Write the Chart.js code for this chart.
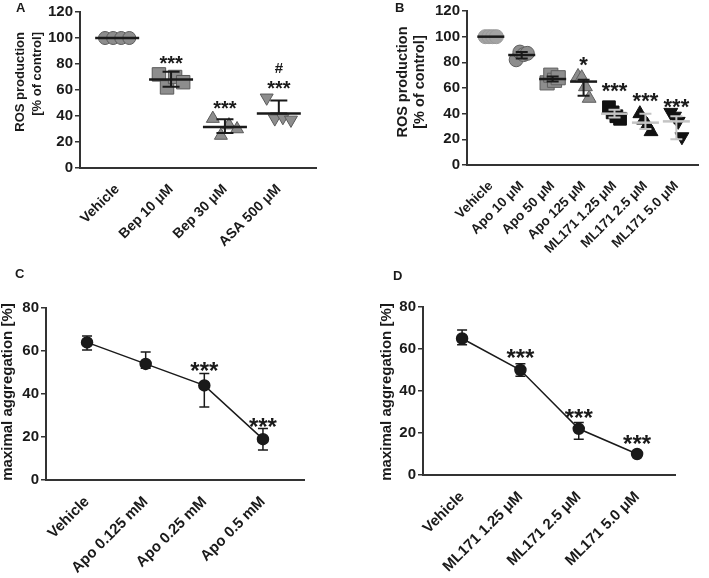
<!DOCTYPE html>
<html>
<head>
<meta charset="utf-8">
<script src="https://cdn.jsdelivr.net/npm/chart.js@4.4.1/dist/chart.umd.min.js"></script>
<style>
  body { margin: 0; background: #fff; width: 709px; height: 578px; position: relative; overflow: hidden; }
  canvas { position: absolute; }
</style>
</head>
<body>
<canvas id="panelA" width="355" height="268" style="left:0;top:0"></canvas>
<canvas id="panelB" width="354" height="268" style="left:355px;top:0"></canvas>
<canvas id="panelC" width="355" height="310" style="left:0;top:268px"></canvas>
<canvas id="panelD" width="354" height="310" style="left:355px;top:268px"></canvas>
<script>
// ---- panel A: ROS production, bepridil / ASA ----
const catsA = ['Vehicle', 'Bep 10 μM', 'Bep 30 μM', 'ASA 500 μM'];
const vehicleA = [100, 100, 100, 100];
const bep10 = [72, 62, 70, 66];
const bep30 = [38, 25, 33, 30];
const asa500 = [54, 38, 39, 37];
const meanA = [100, 68, 31.5, 42];
const lowA = [100, 62.5, 27, 42];
const highA = [100, 74, 37.5, 52];

// ---- panel B: ROS production, apocynin / ML171 ----
const catsB = ['Vehicle', 'Apo 10 μM', 'Apo 50 μM', 'Apo 125 μM', 'ML171 1.25 μM', 'ML171 2.5 μM', 'ML171 5.0 μM'];
const vehicleB = [100, 100, 100, 100];
const apo10 = [82, 88, 86, 87];
const apo50 = [64, 70, 66, 68];
const apo125 = [69, 68, 61, 52];
const ml125 = [45, 41, 38, 36];
const ml25 = [40, 35, 31, 26];
const ml50 = [41, 38, 34, 22];
const meanB = [100, 85.7, 67, 65, 40, 33, 34];
const lowB = [100, 83, 65, 54, 37, 28, 20];
const highB = [100, 88, 69, 66.5, 43, 40, 38];

// ---- panel C: aggregation, apocynin ----
const catsC = ['Vehicle', 'Apo 0.125 mM', 'Apo 0.25 mM', 'Apo 0.5 mM'];
const meanC = [64, 54, 44, 19];
const lowC = [60.5, 52, 34, 14];
const highC = [67, 59.5, 49.5, 24];

// ---- panel D: aggregation, ML171 ----
const catsD = ['Vehicle', 'ML171 1.25 μM', 'ML171 2.5 μM', 'ML171 5.0 μM'];
const meanD = [65, 50, 22, 10];
const lowD = [62, 47, 17, 9];
const highD = [69, 53, 25, 11];

const FONT = "'Liberation Sans', Arial, Helvetica, sans-serif";
const INK = '#1a1a1a';

// error bars, mean lines, stars, panel letter, axis titles
const decor = {
  id: 'decor',
  beforeDatasetsDraw(chart, args, o) {
    if (o.barsBehind) drawBars(chart, o);
  },
  afterDatasetsDraw(chart, args, o) {
    if (!o.barsBehind) drawBars(chart, o);
    drawStars(chart, o);
  },
  afterDraw(chart, args, o) {
    const ctx = chart.ctx;
    ctx.save();
    ctx.fillStyle = INK;
    ctx.font = 'bold 13px ' + FONT;
    ctx.textAlign = 'left';
    ctx.textBaseline = 'alphabetic';
    ctx.fillText(o.letter.text, o.letter.x, o.letter.y);
    o.titles.forEach(t => {
      ctx.save();
      ctx.font = 'bold ' + t.size + 'px ' + FONT;
      ctx.translate(t.x, t.y);
      ctx.rotate(-Math.PI / 2);
      ctx.textAlign = t.align;
      ctx.textBaseline = 'middle';
      ctx.fillText(t.text, 0, 0);
      ctx.restore();
    });
    ctx.restore();
  }
};

function drawBars(chart, o) {
  const ctx = chart.ctx, xs = chart.scales.x, ys = chart.scales.y;
  ctx.save();
  ctx.lineCap = 'butt';
  o.mean.forEach((m, i) => {
    const x = xs.getPixelForValue(i);
    ctx.strokeStyle = o.colors ? o.colors[i] : INK;
    if (o.meanWidth) {
      const y = ys.getPixelForValue(m);
      ctx.lineWidth = o.meanLine;
      ctx.beginPath();
      ctx.moveTo(x - o.meanWidth / 2, y);
      ctx.lineTo(x + o.meanWidth / 2, y);
      ctx.stroke();
    }
    if (o.low[i] < o.high[i]) {
      const y1 = ys.getPixelForValue(o.low[i]);
      const y2 = ys.getPixelForValue(o.high[i]);
      ctx.lineWidth = o.barLine;
      ctx.beginPath();
      ctx.moveTo(x, y1); ctx.lineTo(x, y2);
      ctx.moveTo(x - o.cap / 2, y1); ctx.lineTo(x + o.cap / 2, y1);
      ctx.moveTo(x - o.cap / 2, y2); ctx.lineTo(x + o.cap / 2, y2);
      ctx.stroke();
    }
  });
  ctx.restore();
}

function drawStars(chart, o) {
  const ctx = chart.ctx, xs = chart.scales.x, ys = chart.scales.y;
  ctx.save();
  ctx.fillStyle = INK;
  ctx.textAlign = 'center';
  ctx.textBaseline = 'alphabetic';
  o.stars.forEach(s => {
    ctx.font = 'bold ' + s.size + 'px ' + FONT;
    const lift = s.text === '#' ? 0.36 : 0.58;
    ctx.fillText(s.text, xs.getPixelForValue(s.i), ys.getPixelForValue(s.at) + lift * s.size);
  });
  ctx.restore();
}

function spreadSets(groups, looks, spread) {
  return groups.map((vals, i) => ({
    data: vals.map((v, j) => ({ x: i + (j - (vals.length - 1) / 2) * spread, y: v })),
    pointStyle: looks[i].shape,
    rotation: looks[i].rot || 0,
    pointRadius: looks[i].r,
    pointBackgroundColor: looks[i].fill,
    pointBorderColor: looks[i].edge,
    pointBorderWidth: 1,
    showLine: false
  }));
}

function axes(cats, xmin, xmax, ymax, geo, tickSize, labelSize) {
  return {
    x: {
      type: 'linear', min: xmin, max: xmax,
      afterBuildTicks: s => { s.ticks = cats.map((c, i) => ({ value: i })); },
      ticks: {
        callback: v => cats[v], autoSkip: false, minRotation: 45, maxRotation: 45,
        padding: 13, color: INK, font: { family: FONT, size: labelSize, weight: 'bold' }
      },
      grid: { display: false, drawTicks: false },
      border: { color: '#333', width: 2 },
      afterFit: s => { s.height = geo.xh; s.paddingLeft = 0; s.paddingRight = 0; }
    },
    y: {
      min: 0, max: ymax,
      ticks: { stepSize: 20, padding: 2, color: INK, font: { family: FONT, size: tickSize, weight: 'bold' } },
      grid: { drawOnChartArea: false, tickLength: 5, color: '#333', lineWidth: 1.5 },
      border: { color: '#333', width: 2 },
      afterFit: s => { s.width = geo.yw; s.paddingTop = 0; s.paddingBottom = 0; }
    }
  };
}

const base = {
  responsive: false,
  animation: false,
  events: [],
  plugins: { legend: { display: false }, tooltip: { enabled: false } }
};

// panel A
const grey = { fill: '#8d8d8d', edge: '#5a5a5a' };
new Chart(document.getElementById('panelA'), {
  type: 'scatter',
  data: {
    datasets: spreadSets([vehicleA, bep10, bep30, asa500], [
      { shape: 'circle', r: 6.5, ...grey },
      { shape: 'rect', r: 9.5, ...grey },
      { shape: 'triangle', r: 7.5, ...grey },
      { shape: 'triangle', rot: 180, r: 7.5, ...grey }
    ], 0.15)
  },
  options: {
    ...base,
    layout: { padding: { left: 0, top: 12, right: 39, bottom: 0 } },
    scales: axes(catsA, -0.69, 3.69, 120, { xh: 100, yw: 80 }, 15, 14),
    plugins: {
      ...base.plugins,
      decor: {
        mean: meanA, low: lowA, high: highA,
        meanWidth: 44, meanLine: 2.5, barLine: 2, cap: 17,
        stars: [
          { i: 1, text: '***', at: 84.5, size: 20 },
          { i: 2, text: '***', at: 50, size: 20 },
          { i: 3, text: '***', at: 65, size: 20 },
          { i: 3, text: '#', at: 77, size: 15 }
        ],
        letter: { text: 'A', x: 16, y: 12 },
        titles: [
          { text: 'ROS production', x: 20, y: 32, size: 13, align: 'right' },
          { text: '[% of control]', x: 37, y: 32, size: 13, align: 'right' }
        ]
      }
    }
  },
  plugins: [decor]
});

// panel B
const greyB = { fill: '#8d8d8d', edge: '#5f5f5f' };
const black = { fill: '#111', edge: '#111' };
new Chart(document.getElementById('panelB'), {
  type: 'scatter',
  data: {
    datasets: spreadSets([vehicleB, apo10, apo50, apo125, ml125, ml25, ml50], [
      { shape: 'circle', r: 7, fill: '#a3a3a3', edge: '#999' },
      { shape: 'circle', r: 7, ...greyB },
      { shape: 'rect', r: 10, ...greyB },
      { shape: 'triangle', r: 8, ...greyB },
      { shape: 'rect', r: 9, ...black },
      { shape: 'triangle', r: 8, ...black },
      { shape: 'triangle', rot: 180, r: 8, ...black }
    ], 0.12)
  },
  options: {
    ...base,
    layout: { padding: { left: 0, top: 5, right: 0, bottom: 0 } },
    scales: axes(catsB, -0.77, 6.7, 120, { xh: 103, yw: 112 }, 15, 13.5),
    plugins: {
      ...base.plugins,
      decor: {
        mean: meanB, low: lowB, high: highB,
        colors: [INK, INK, INK, INK, '#c4c4c4', '#c4c4c4', '#c4c4c4'],
        meanWidth: 27, meanLine: 2.5, barLine: 2, cap: 12,
        stars: [
          { i: 3, text: '*', at: 82.5, size: 22 },
          { i: 4, text: '***', at: 62, size: 22 },
          { i: 5, text: '***', at: 54, size: 22 },
          { i: 6, text: '***', at: 49.5, size: 22 }
        ],
        letter: { text: 'B', x: 40, y: 12 },
        titles: [
          { text: 'ROS production', x: 48, y: 82, size: 14.5, align: 'center' },
          { text: '[% of control]', x: 65, y: 82, size: 14.5, align: 'center' }
        ]
      }
    }
  },
  plugins: [decor]
});

// panels C and D
function aggregation(id, cats, mean, low, high, range, geo, pad, stars, letter, titleX) {
  return new Chart(document.getElementById(id), {
    type: 'scatter',
    data: {
      datasets: [{
        data: mean.map((v, i) => ({ x: i, y: v })),
        showLine: true,
        borderColor: INK,
        borderWidth: 1.5,
        pointRadius: 5.5,
        pointBackgroundColor: INK,
        pointBorderColor: INK
      }]
    },
    options: {
      ...base,
      layout: { padding: pad },
      scales: axes(cats, range[0], range[1], 80, geo, 15, 15),
      plugins: {
        ...base.plugins,
        decor: {
          barsBehind: true,
          mean, low, high,
          meanWidth: 0, barLine: 1.5, cap: 10,
          stars,
          letter,
          titles: [{ text: 'maximal aggregation [%]', x: titleX, y: 124, size: 15, align: 'center' }]
        }
      }
    },
    plugins: [decor]
  });
}

aggregation('panelC', catsC, meanC, lowC, highC, [-0.7, 3.7],
  { xh: 98, yw: 46 }, { left: 0, top: 40, right: 51, bottom: 0 },
  [{ i: 2, text: '***', at: 53.5, size: 24 }, { i: 3, text: '***', at: 27.5, size: 24 }],
  { text: 'C', x: 15, y: 10 }, 8);

aggregation('panelD', catsD, meanD, lowD, highD, [-0.67, 3.65],
  { xh: 103, yw: 68 }, { left: 0, top: 39, right: 34, bottom: 0 },
  [{ i: 1, text: '***', at: 58.5, size: 24 }, { i: 2, text: '***', at: 30, size: 24 }, { i: 3, text: '***', at: 17.5, size: 24 }],
  { text: 'D', x: 38, y: 12 }, 32);
</script>
</body>
</html>
